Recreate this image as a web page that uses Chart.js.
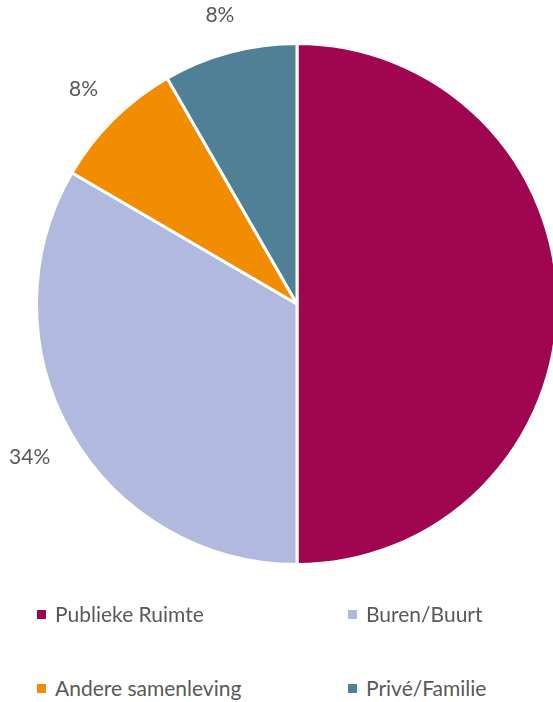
<!DOCTYPE html>
<html>
<head>
<meta charset="utf-8">
<script src="https://cdn.jsdelivr.net/npm/chart.js@4/dist/chart.umd.min.js"></script>
<style>
  html, body { margin: 0; padding: 0; background: #fff; overflow: hidden; width: 553px; height: 702px; }
  #wrap { position: absolute; left: 0; top: 0; width: 594px; height: 610px; }
  .legend { position: absolute; font-family: Lato, "Open Sans", sans-serif; font-size: 21px; color: #595959; white-space: nowrap; }
  .legend span.box { display: inline-block; width: 9px; height: 9px; margin-right: 9px; vertical-align: 3px; }
</style>
</head>
<body>
<div id="wrap"><canvas id="pie" width="594" height="610"></canvas></div>
<div id="legendbox"></div>
<script>
const labels = ['Publieke Ruimte', 'Buren/Buurt', 'Andere samenleving', 'Privé/Familie']
const values = [50, 33.4, 8.3, 8.3]
const pctLabels = ['50%', '34%', '8%', '8%']
const colors = ['#A00552', '#B2B9DE', '#F28C00', '#4F8095']

// legend positions (2 columns, 2 rows)
const legendPos = [[37, 601], [348, 601], [37, 675], [348, 675]]

const legendEl = document.querySelector('#legendbox')
labels.forEach((l, i) => {
    legendEl.innerHTML += `<div class="legend" style="left:${legendPos[i][0]}px;top:${legendPos[i][1]}px"><span class="box" style="background:${colors[i]}"></span>${l}</div>`
})

// percent labels outside the slices ("outside end" style)
const outsideLabels = {
    id: 'outsideLabels',
    afterDatasetsDraw(chart) {
        const ctx = chart.ctx
        const meta = chart.getDatasetMeta(0)
        ctx.save()
        ctx.font = '21px Lato, "Open Sans", sans-serif'
        ctx.fillStyle = '#595959'
        ctx.textAlign = 'center'
        ctx.textBaseline = 'middle'
        meta.data.forEach((arc, i) => {
            const mid = (arc.startAngle + arc.endAngle) / 2
            const halfW = ctx.measureText(pctLabels[i]).width / 2
            const halfH = 10
            const ext = Math.abs(Math.cos(mid)) * halfW + Math.abs(Math.sin(mid)) * halfH
            const r = arc.outerRadius + 25 + ext
            const x = arc.x + Math.cos(mid) * r
            const y = arc.y + Math.sin(mid) * r
            ctx.fillText(pctLabels[i], x, y)
        })
        ctx.restore()
    }
}

new Chart(document.getElementById('pie').getContext('2d'), {
    type: 'pie',
    data: {
        labels: labels,
        datasets: [{
            data: values,
            backgroundColor: colors,
            borderColor: '#ffffff',
            borderWidth: 3
        }]
    },
    options: {
        responsive: false,
        animation: false,
        layout: { padding: { left: 35, right: 35, top: 42, bottom: 44 } },
        plugins: {
            legend: { display: false },
            tooltip: { enabled: false }
        }
    },
    plugins: [outsideLabels]
})
</script>
</body>
</html>
